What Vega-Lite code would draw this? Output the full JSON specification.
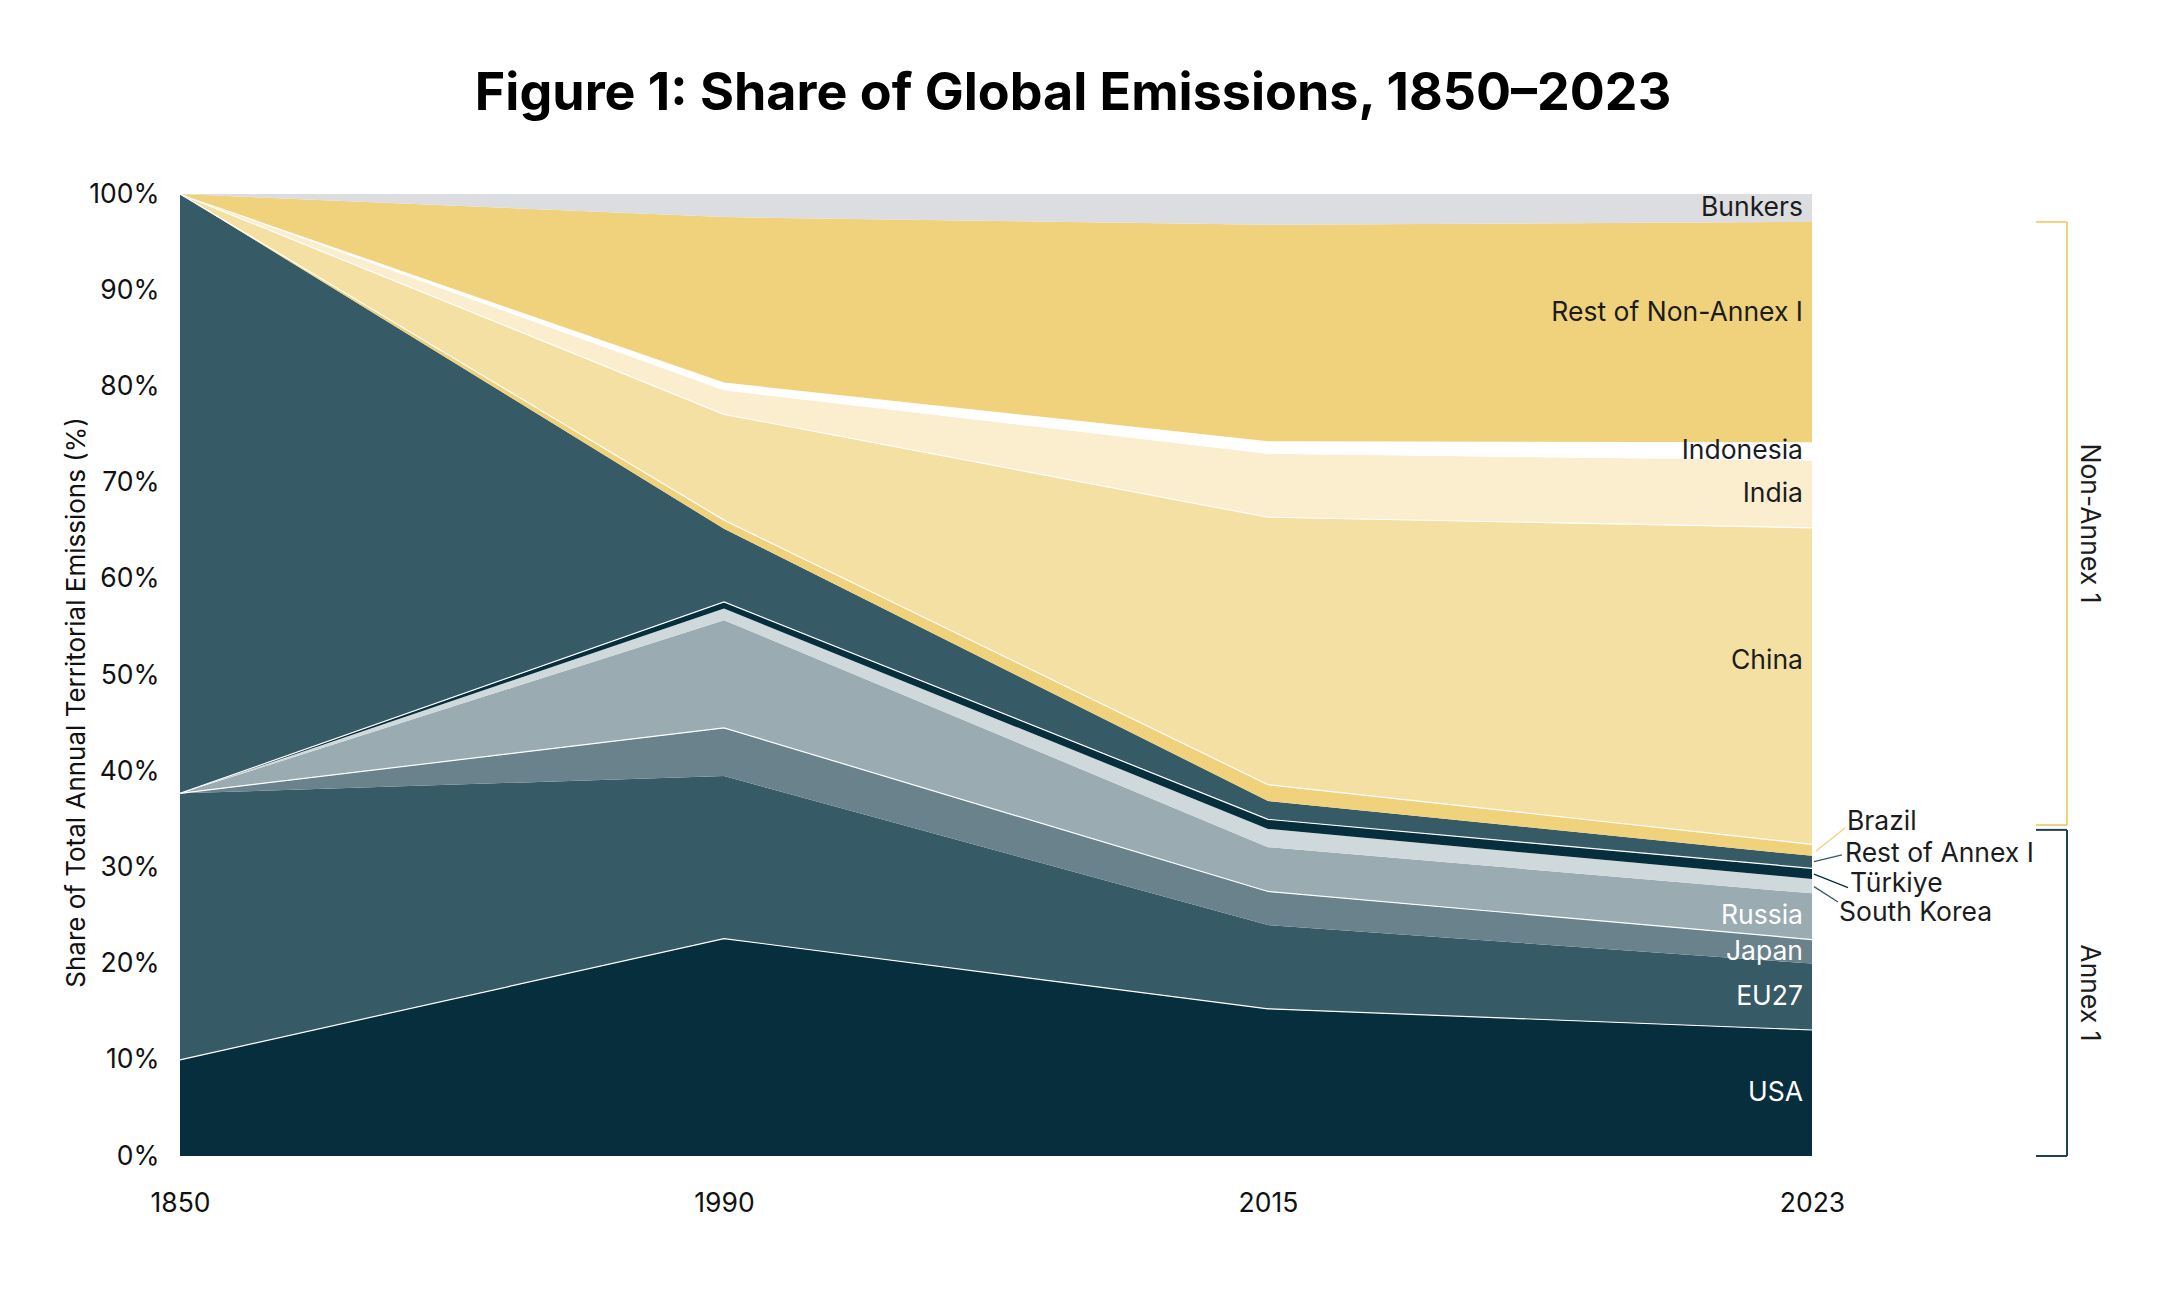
{
  "$schema": "https://vega.github.io/schema/vega-lite/v6.json",
  "width": 1632,
  "height": 962,
  "autosize": {"type": "none"},
  "padding": {"left": 180, "top": 194, "right": 348, "bottom": 138},
  "background": "white",
  "config": {"font": "Inter", "view": {"stroke": null}},
  "title": {
    "text": "Figure 1: Share of Global Emissions, 1850–2023",
    "fontSize": 52,
    "fontWeight": "bold",
    "font": "Inter",
    "color": "#000000",
    "anchor": "middle",
    "dx": 77,
    "offset": 60
  },
  "data": {
    "values": [
      {"year": "1850", "region": "USA", "share": 10.0},
      {"year": "1850", "region": "EU27", "share": 27.7},
      {"year": "1850", "region": "Japan", "share": 0},
      {"year": "1850", "region": "Russia", "share": 0},
      {"year": "1850", "region": "South Korea", "share": 0},
      {"year": "1850", "region": "Türkiye", "share": 0},
      {"year": "1850", "region": "Rest of Annex I", "share": 62.3},
      {"year": "1850", "region": "Brazil", "share": 0},
      {"year": "1850", "region": "China", "share": 0},
      {"year": "1850", "region": "India", "share": 0},
      {"year": "1850", "region": "Indonesia", "share": 0},
      {"year": "1850", "region": "Rest of Non-Annex I", "share": 0},
      {"year": "1850", "region": "Bunkers", "share": 0},
      {"year": "1990", "region": "USA", "share": 22.6},
      {"year": "1990", "region": "EU27", "share": 16.9},
      {"year": "1990", "region": "Japan", "share": 5.0},
      {"year": "1990", "region": "Russia", "share": 11.2},
      {"year": "1990", "region": "South Korea", "share": 1.2},
      {"year": "1990", "region": "Türkiye", "share": 0.7},
      {"year": "1990", "region": "Rest of Annex I", "share": 7.6},
      {"year": "1990", "region": "Brazil", "share": 0.9},
      {"year": "1990", "region": "China", "share": 11.0},
      {"year": "1990", "region": "India", "share": 2.5},
      {"year": "1990", "region": "Indonesia", "share": 0.8},
      {"year": "1990", "region": "Rest of Non-Annex I", "share": 17.2},
      {"year": "1990", "region": "Bunkers", "share": 2.4},
      {"year": "2015", "region": "USA", "share": 15.3},
      {"year": "2015", "region": "EU27", "share": 8.7},
      {"year": "2015", "region": "Japan", "share": 3.5},
      {"year": "2015", "region": "Russia", "share": 4.6},
      {"year": "2015", "region": "South Korea", "share": 1.9},
      {"year": "2015", "region": "Türkiye", "share": 1.0},
      {"year": "2015", "region": "Rest of Annex I", "share": 1.9},
      {"year": "2015", "region": "Brazil", "share": 1.7},
      {"year": "2015", "region": "China", "share": 27.8},
      {"year": "2015", "region": "India", "share": 6.6},
      {"year": "2015", "region": "Indonesia", "share": 1.3},
      {"year": "2015", "region": "Rest of Non-Annex I", "share": 22.5},
      {"year": "2015", "region": "Bunkers", "share": 3.2},
      {"year": "2023", "region": "USA", "share": 13.1},
      {"year": "2023", "region": "EU27", "share": 6.9},
      {"year": "2023", "region": "Japan", "share": 2.5},
      {"year": "2023", "region": "Russia", "share": 4.8},
      {"year": "2023", "region": "South Korea", "share": 1.5},
      {"year": "2023", "region": "Türkiye", "share": 1.1},
      {"year": "2023", "region": "Rest of Annex I", "share": 1.3},
      {"year": "2023", "region": "Brazil", "share": 1.2},
      {"year": "2023", "region": "China", "share": 32.9},
      {"year": "2023", "region": "India", "share": 7.0},
      {"year": "2023", "region": "Indonesia", "share": 1.9},
      {"year": "2023", "region": "Rest of Non-Annex I", "share": 22.9},
      {"year": "2023", "region": "Bunkers", "share": 2.9}
    ]
  },
  "transform": [
    {"calculate": "indexof(['USA','EU27','Japan','Russia','South Korea','Türkiye','Rest of Annex I','Brazil','China','India','Indonesia','Rest of Non-Annex I','Bunkers'], datum.region)", "as": "ord"},
    {"stack": "share", "groupby": ["year"], "sort": [{"field": "ord", "order": "ascending"}], "as": ["y0", "y1"]},
    {"calculate": "(datum.y0 + datum.y1) / 2", "as": "mid"}
  ],
  "layer": [
    {
      "mark": {"type": "area", "interpolate": "linear"},
      "encoding": {
        "x": {
          "field": "year", "type": "ordinal",
          "scale": {"type": "point", "padding": 0},
          "axis": {"title": null, "labelAngle": 0, "ticks": false, "domain": false, "grid": false, "labelPadding": 34, "labelFontSize": 26.5, "labelColor": "#111111", "labelFont": "Inter"}
        },
        "y": {
          "field": "y1", "type": "quantitative", "stack": null,
          "scale": {"domain": [0, 100], "nice": false},
          "axis": {
            "title": "Share of Total Annual Territorial Emissions (%)",
            "titleFontSize": 26, "titleFontWeight": "normal", "titleColor": "#111111", "titleFont": "Inter",
            "titleX": -104, "titleY": 508, "titleBaseline": "middle", "titleAlign": "center",
            "values": [0, 10, 20, 30, 40, 50, 60, 70, 80, 90, 100],
            "labelExpr": "datum.value + '%'",
            "ticks": false, "domain": false, "grid": false,
            "labelPadding": 21, "labelFontSize": 26.5, "labelColor": "#111111", "labelFont": "Inter"
          }
        },
        "y2": {"field": "y0"},
        "color": {
          "field": "region", "type": "nominal", "legend": null,
          "scale": {
            "domain": ["USA", "EU27", "Japan", "Russia", "South Korea", "Türkiye", "Rest of Annex I", "Brazil", "China", "India", "Indonesia", "Rest of Non-Annex I", "Bunkers"],
            "range": ["#062e3c", "#375a67", "#69828b", "#9aabb2", "#cfd8db", "#062e3c", "#375a67", "#f0d27c", "#f4e0a2", "#faeecf", "#ffffff", "#f0d27c", "#dcdde0"]
          }
        },
        "order": {"field": "ord"}
      }
    },
    {
      "transform": [{"filter": "indexof(['USA','Japan','Türkiye','Brazil','China'], datum.region) >= 0"}],
      "mark": {"type": "line", "color": "#ffffff", "strokeWidth": 1.2, "interpolate": "linear"},
      "encoding": {
        "x": {"field": "year", "type": "ordinal"},
        "y": {"field": "y1", "type": "quantitative", "stack": null},
        "detail": {"field": "region"}
      }
    },
    {
      "transform": [
        {"filter": "datum.year == '2023'"},
        {"filter": "indexof(['USA','EU27','Japan','Russia','India','Indonesia','Bunkers'], datum.region) >= 0"}
      ],
      "mark": {"type": "text", "align": "right", "baseline": "middle", "dx": -9, "fontSize": 26.5, "font": "Inter"},
      "encoding": {
        "x": {"field": "year", "type": "ordinal"},
        "y": {"field": "mid", "type": "quantitative"},
        "text": {"field": "region"},
        "color": {
          "condition": {"test": "indexof(['USA','EU27','Japan','Russia'], datum.region) >= 0", "value": "#ffffff"},
          "value": "#1c1c1c"
        }
      }
    },
    {
      "transform": [
        {"filter": "datum.year == '2023'"},
        {"filter": "datum.region == 'China'"}
      ],
      "mark": {"type": "text", "align": "right", "baseline": "middle", "dx": -9, "dy": -25, "fontSize": 26.5, "font": "Inter", "color": "#1c1c1c"},
      "encoding": {
        "x": {"field": "year", "type": "ordinal"},
        "y": {"field": "mid", "type": "quantitative"},
        "text": {"field": "region"}
      }
    },
    {
      "transform": [
        {"filter": "datum.year == '2023'"},
        {"filter": "datum.region == 'Rest of Non-Annex I'"}
      ],
      "mark": {"type": "text", "align": "right", "baseline": "middle", "dx": -9, "dy": -19, "fontSize": 26.5, "font": "Inter", "color": "#1c1c1c"},
      "encoding": {
        "x": {"field": "year", "type": "ordinal"},
        "y": {"field": "mid", "type": "quantitative"},
        "text": {"field": "region"}
      }
    },
    {
      "data": {"values": [{}]},
      "mark": {"type": "text", "align": "left", "baseline": "middle", "xOffset": 35, "fontSize": 26.5, "font": "Inter", "color": "#1c1c1c"},
      "encoding": {"x": {"datum": "2023", "type": "ordinal"}, "y": {"datum": 34.7, "type": "quantitative"}, "text": {"value": "Brazil"}}
    },
    {
      "data": {"values": [{}]},
      "mark": {"type": "text", "align": "left", "baseline": "middle", "xOffset": 33, "fontSize": 26.5, "font": "Inter", "color": "#1c1c1c"},
      "encoding": {"x": {"datum": "2023", "type": "ordinal"}, "y": {"datum": 31.4, "type": "quantitative"}, "text": {"value": "Rest of Annex I"}}
    },
    {
      "data": {"values": [{}]},
      "mark": {"type": "text", "align": "left", "baseline": "middle", "xOffset": 38, "fontSize": 26.5, "font": "Inter", "color": "#1c1c1c"},
      "encoding": {"x": {"datum": "2023", "type": "ordinal"}, "y": {"datum": 28.3, "type": "quantitative"}, "text": {"value": "Türkiye"}}
    },
    {
      "data": {"values": [{}]},
      "mark": {"type": "text", "align": "left", "baseline": "middle", "xOffset": 27, "fontSize": 26.5, "font": "Inter", "color": "#1c1c1c"},
      "encoding": {"x": {"datum": "2023", "type": "ordinal"}, "y": {"datum": 25.3, "type": "quantitative"}, "text": {"value": "South Korea"}}
    },
    {
      "data": {"values": [{}]},
      "mark": {"type": "rule", "xOffset": 33, "x2Offset": 4, "color": "#f0d27c", "strokeWidth": 1.3},
      "encoding": {"x": {"datum": "2023", "type": "ordinal"}, "x2": {"datum": "2023"}, "y": {"datum": 34.1, "type": "quantitative"}, "y2": {"datum": 31.7}}
    },
    {
      "data": {"values": [{}]},
      "mark": {"type": "rule", "xOffset": 30, "x2Offset": 2, "color": "#375a67", "strokeWidth": 1.3},
      "encoding": {"x": {"datum": "2023", "type": "ordinal"}, "x2": {"datum": "2023"}, "y": {"datum": 31.3, "type": "quantitative"}, "y2": {"datum": 30.6}}
    },
    {
      "data": {"values": [{}]},
      "mark": {"type": "rule", "xOffset": 36, "x2Offset": 2, "color": "#062e3c", "strokeWidth": 1.3},
      "encoding": {"x": {"datum": "2023", "type": "ordinal"}, "x2": {"datum": "2023"}, "y": {"datum": 27.9, "type": "quantitative"}, "y2": {"datum": 29.3}}
    },
    {
      "data": {"values": [{}]},
      "mark": {"type": "rule", "xOffset": 26, "x2Offset": 2, "color": "#375a67", "strokeWidth": 1.3},
      "encoding": {"x": {"datum": "2023", "type": "ordinal"}, "x2": {"datum": "2023"}, "y": {"datum": 26.4, "type": "quantitative"}, "y2": {"datum": 28.0}}
    },
    {
      "data": {"values": [{}]},
      "mark": {"type": "rule", "xOffset": 255, "x2Offset": 255, "color": "#f0d27c", "strokeWidth": 2},
      "encoding": {"x": {"datum": "2023", "type": "ordinal"}, "x2": {"datum": "2023"}, "y": {"datum": 97.1, "type": "quantitative"}, "y2": {"datum": 34.4}}
    },
    {
      "data": {"values": [{}]},
      "mark": {"type": "rule", "xOffset": 224, "x2Offset": 255, "color": "#f0d27c", "strokeWidth": 2},
      "encoding": {"x": {"datum": "2023", "type": "ordinal"}, "x2": {"datum": "2023"}, "y": {"datum": 97.1, "type": "quantitative"}}
    },
    {
      "data": {"values": [{}]},
      "mark": {"type": "rule", "xOffset": 224, "x2Offset": 255, "color": "#f0d27c", "strokeWidth": 2},
      "encoding": {"x": {"datum": "2023", "type": "ordinal"}, "x2": {"datum": "2023"}, "y": {"datum": 34.4, "type": "quantitative"}}
    },
    {
      "data": {"values": [{}]},
      "mark": {"type": "rule", "xOffset": 255, "x2Offset": 255, "color": "#1f4150", "strokeWidth": 2},
      "encoding": {"x": {"datum": "2023", "type": "ordinal"}, "x2": {"datum": "2023"}, "y": {"datum": 33.9, "type": "quantitative"}, "y2": {"datum": 0}}
    },
    {
      "data": {"values": [{}]},
      "mark": {"type": "rule", "xOffset": 224, "x2Offset": 255, "color": "#1f4150", "strokeWidth": 2},
      "encoding": {"x": {"datum": "2023", "type": "ordinal"}, "x2": {"datum": "2023"}, "y": {"datum": 33.9, "type": "quantitative"}}
    },
    {
      "data": {"values": [{}]},
      "mark": {"type": "rule", "xOffset": 224, "x2Offset": 255, "color": "#1f4150", "strokeWidth": 2},
      "encoding": {"x": {"datum": "2023", "type": "ordinal"}, "x2": {"datum": "2023"}, "y": {"datum": 0, "type": "quantitative"}}
    },
    {
      "data": {"values": [{}]},
      "mark": {"type": "text", "align": "center", "baseline": "middle", "angle": 90, "xOffset": 277, "fontSize": 26.5, "font": "Inter", "color": "#1c1c1c"},
      "encoding": {"x": {"datum": "2023", "type": "ordinal"}, "y": {"datum": 65.75, "type": "quantitative"}, "text": {"value": "Non-Annex 1"}}
    },
    {
      "data": {"values": [{}]},
      "mark": {"type": "text", "align": "center", "baseline": "middle", "angle": 90, "xOffset": 277, "fontSize": 26.5, "font": "Inter", "color": "#1c1c1c"},
      "encoding": {"x": {"datum": "2023", "type": "ordinal"}, "y": {"datum": 16.95, "type": "quantitative"}, "text": {"value": "Annex 1"}}
    }
  ]
}
